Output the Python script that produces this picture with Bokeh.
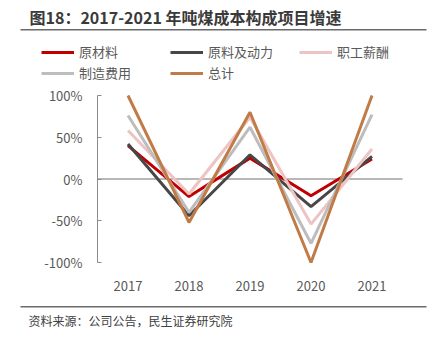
from bokeh.plotting import figure
from bokeh.models import (Range1d, FixedTicker, Legend, LegendItem, Label, BoxAnnotation)
from bokeh.embed import file_html
from bokeh.resources import INLINE

# ---- data ----
years = ["2017", "2018", "2019", "2020", "2021"]
series_names = ["原材料", "原料及动力", "职工薪酬", "制造费用", "总计"]
raw_material = [40, -21, 25, -20, 24]
material_power = [42, -44, 29, -33, 27]
wages = [58, -18, 74, -54, 36]
manufacturing = [76, -40, 62, -77, 77]
total = [100, -52, 80, -100, 100]
y_ticks = [-100, -50, 0, 50, 100]
y_tick_labels = ["-100%", "-50%", "0%", "50%", "100%"]
title_text = "图18：2017-2021 年吨煤成本构成项目增速"
source_text = "资料来源：公司公告，民生证券研究院"

colors = ["#C00000", "#474747", "#EDC3C3", "#BDBDBD", "#C07B47"]
series = [raw_material, material_power, wages, manufacturing, total]

FONT = "Noto Sans CJK SC"
W, H = 438, 340
# plot area on the page (pixels)
PL, PR, PT, PB = 97.0, 402.0, 95.0, 262.0

n = len(years)
xs = [i + 0.5 for i in range(n)]
ymin, ymax = y_ticks[0], y_ticks[-1]
sx = (PR - PL) / n
sy = (PB - PT) / (ymax - ymin)
x_range = Range1d(-PL / sx, n + (W - PR) / sx)
y_range = Range1d(ymin - (H - PB) / sy, ymax + PT / sy)

p = figure(width=W, height=H, output_backend="svg", toolbar_location=None,
           x_range=x_range, y_range=y_range,
           min_border=0, background_fill_color="white",
           border_fill_color="white", outline_line_color=None)
p.grid.visible = False

# axes
p.xaxis.fixed_location = ymin
p.xaxis.ticker = FixedTicker(ticks=xs)
p.xaxis.major_label_overrides = {x: y for x, y in zip(xs, years)}
p.xaxis.axis_line_color = None
p.xaxis.major_tick_line_color = None
p.xaxis.minor_tick_line_color = None
p.xaxis.major_label_standoff = 12
p.yaxis.fixed_location = 0
p.yaxis.bounds = (ymin, ymax)
p.yaxis.ticker = FixedTicker(ticks=y_ticks)
p.yaxis.major_label_overrides = {t: l for t, l in zip(y_ticks, y_tick_labels)}
p.yaxis.axis_line_color = "#8c8c8c"
p.yaxis.major_tick_line_color = "#8c8c8c"
p.yaxis.major_tick_in = 4
p.yaxis.major_tick_out = 0
p.yaxis.minor_tick_line_color = None
p.yaxis.major_label_standoff = 15
for ax in (p.xaxis, p.yaxis):
    ax.major_label_text_font = FONT
    ax.major_label_text_font_size = "13px"
    ax.major_label_text_color = "#595959"

# zero line across the plot area
p.segment(x0=0, x1=n, y0=0, y1=0, line_color="#707070", line_width=1)

renderers = {}
for name, vals, c in zip(series_names, series, colors):
    renderers[name] = p.line(xs, vals, line_color=c, line_width=3)

# legend fills column by column: order so rows read like the reference
ncols = 3
nrows = -(-len(series_names) // ncols)
order = []
for c in range(ncols):
    for r in range(nrows):
        k = r * ncols + c
        if k < len(series_names):
            order.append(series_names[k])
items = [LegendItem(label=nm, renderers=[renderers[nm]]) for nm in order]

legend = Legend(items=items, ncols=ncols, location=(41, H - 82), padding=0, margin=0,
                spacing=2, glyph_width=33, glyph_height=18, label_height=18,
                label_width=89, label_standoff=5, border_line_color=None,
                background_fill_alpha=0, label_text_font=FONT,
                label_text_font_size="13px", label_text_color="#595959")
p.add_layout(legend, "center")

# title, rules, source
p.add_layout(Label(x=29, y=16, x_units="canvas", y_units="canvas", text=title_text,
                   text_font=FONT, text_font_size="16px", text_font_style="bold",
                   text_color="#3a3a3a", text_baseline="middle"))
for top in (28.5, 305.5):
    p.add_layout(BoxAnnotation(left=20, right=426, top=top, bottom=top + 1.5,
                               left_units="canvas", right_units="canvas",
                               top_units="canvas", bottom_units="canvas",
                               fill_color="#6b6b6b", fill_alpha=1, line_color=None))
p.add_layout(Label(x=28, y=320, x_units="canvas", y_units="canvas", text=source_text,
                   text_font=FONT, text_font_size="12px", text_color="#404040",
                   text_baseline="middle"))

open("out.html", "w").write(file_html(p, INLINE))
